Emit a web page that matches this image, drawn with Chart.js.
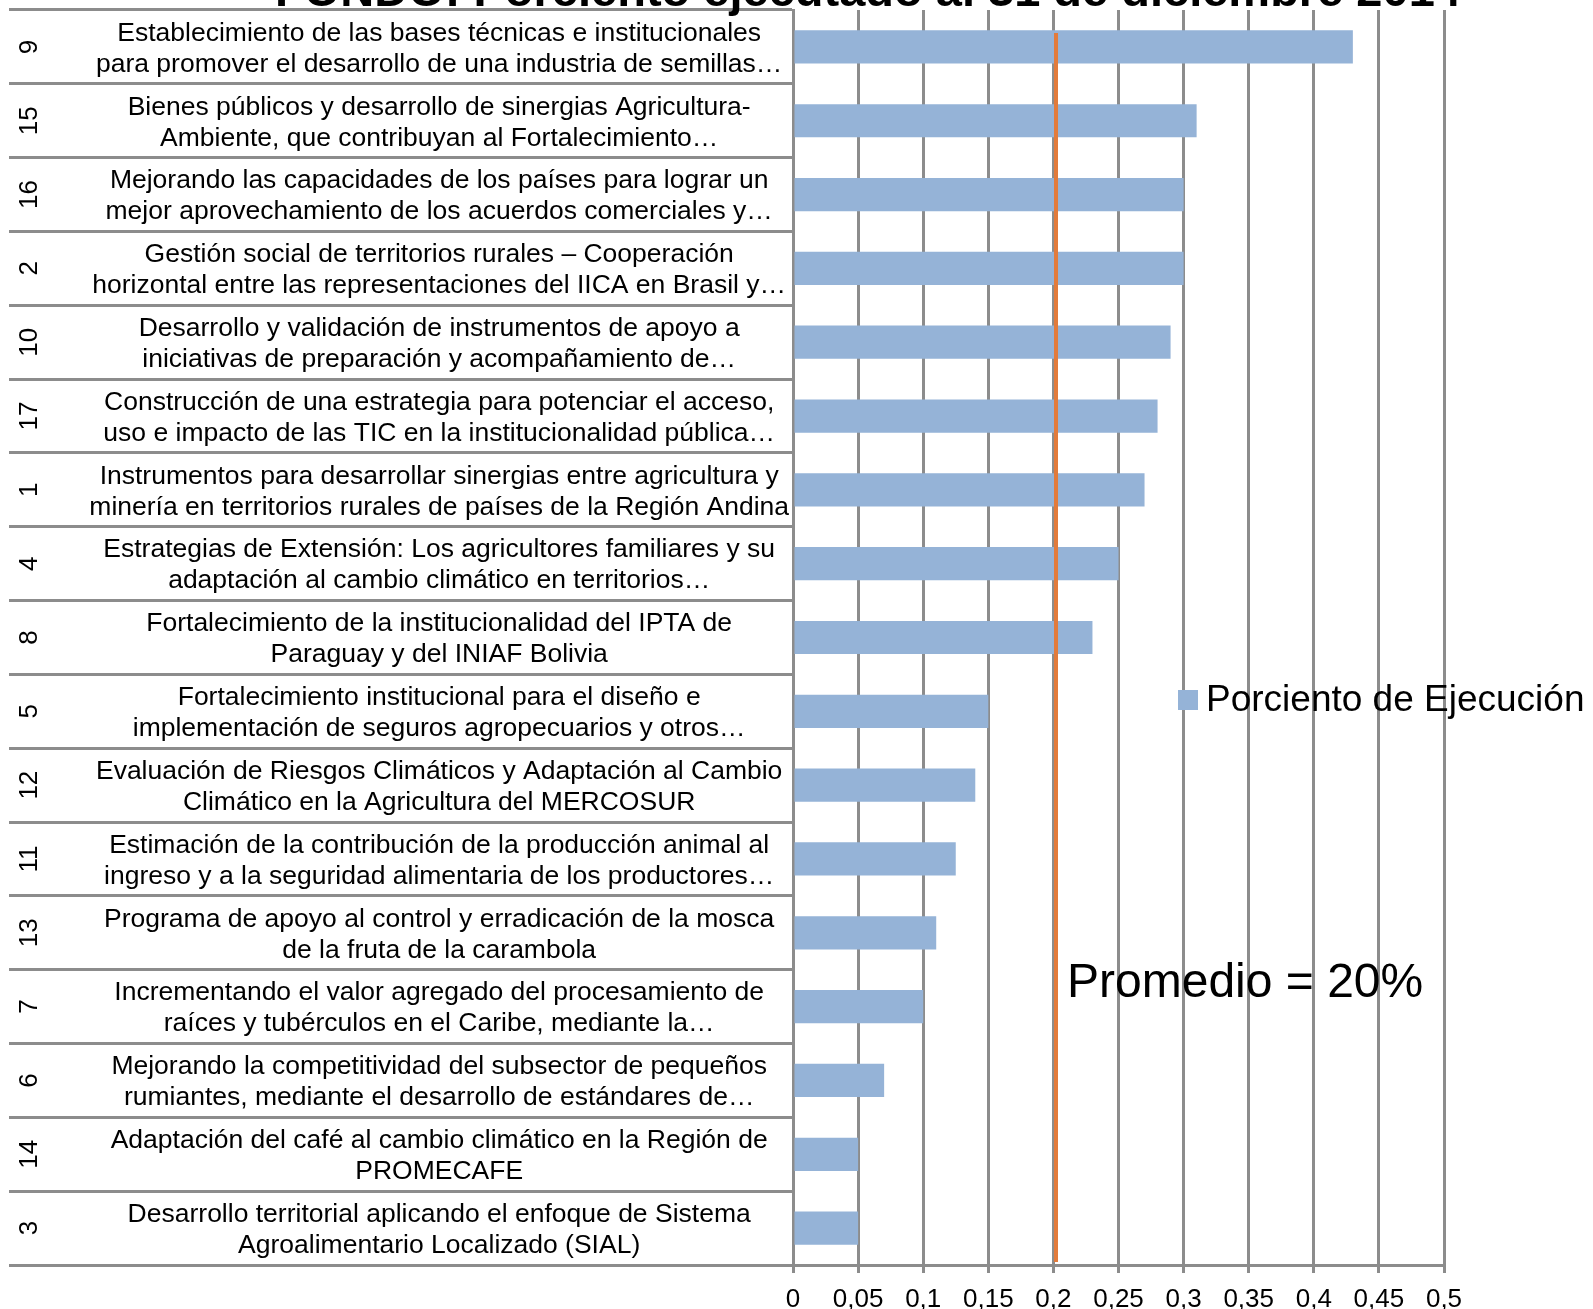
<!DOCTYPE html>
<html>
<head>
<meta charset="utf-8">
<script src="https://cdn.jsdelivr.net/npm/chart.js@4.4.1/dist/chart.umd.min.js"></script>
<style>
  html, body { margin: 0; padding: 0; background: #fff; }
  canvas { display: block; }
</style>
</head>
<body>
<canvas id="grafico" width="1593" height="1309"></canvas>
<script>
// Número del proyecto (columna exterior)
const numeros = ['9', '15', '16', '2', '10', '17', '1', '4', '8', '5', '12', '11', '13', '7', '6', '14', '3'];

// Nombre del proyecto (columna interior, dos líneas)
const proyectos = [
    ['Establecimiento de las bases técnicas e institucionales', 'para promover el desarrollo de una industria de semillas…'],
    ['Bienes públicos y desarrollo de sinergias Agricultura-', 'Ambiente, que contribuyan al Fortalecimiento…'],
    ['Mejorando las capacidades de los países para lograr un', 'mejor aprovechamiento de los acuerdos comerciales y…'],
    ['Gestión social de territorios rurales – Cooperación', 'horizontal entre las representaciones del IICA en Brasil y…'],
    ['Desarrollo y validación de instrumentos de apoyo a', 'iniciativas de preparación y acompañamiento de…'],
    ['Construcción de una estrategia para potenciar el acceso,', 'uso e impacto de las TIC en la institucionalidad pública…'],
    ['Instrumentos para desarrollar sinergias entre agricultura y', 'minería en territorios rurales de países de la Región Andina'],
    ['Estrategias de Extensión: Los agricultores familiares y su', 'adaptación al cambio climático en territorios…'],
    ['Fortalecimiento de la institucionalidad del IPTA de', 'Paraguay y del INIAF Bolivia'],
    ['Fortalecimiento institucional para el diseño e', 'implementación de seguros agropecuarios y otros…'],
    ['Evaluación de Riesgos Climáticos y Adaptación al Cambio', 'Climático en la Agricultura del MERCOSUR'],
    ['Estimación de la contribución de la producción animal al', 'ingreso y a la seguridad alimentaria de los productores…'],
    ['Programa de apoyo al control y erradicación de la mosca', 'de la fruta de la carambola'],
    ['Incrementando el valor agregado del procesamiento de', 'raíces y tubérculos en el Caribe, mediante la…'],
    ['Mejorando la competitividad del subsector de pequeños', 'rumiantes, mediante el desarrollo de estándares de…'],
    ['Adaptación del café al cambio climático en la Región de', 'PROMECAFE'],
    ['Desarrollo territorial aplicando el enfoque de Sistema', 'Agroalimentario Localizado (SIAL)']
];

// Porciento de ejecución
const porcentajes = [0.43, 0.31, 0.30, 0.30, 0.29, 0.28, 0.27, 0.25, 0.23, 0.15, 0.14, 0.125, 0.11, 0.10, 0.07, 0.05, 0.05];

const promedio = 0.202;
const xTicks = ['0', '0,05', '0,1', '0,15', '0,2', '0,25', '0,3', '0,35', '0,4', '0,45', '0,5'];

const gris = '#8c8c8c';
const azul = '#95b3d7';
const naranja = '#e27b3b';
const fuente = "'Liberation Sans', Arial, sans-serif";

Chart.defaults.font.family = fuente;
Chart.defaults.color = '#000';

// dibuja título, números de proyecto, línea del promedio y leyenda
const extras = {
    id: 'extras',
    afterDatasetsDraw(chart) {
        const ctx = chart.ctx;
        const x = chart.scales.x;
        const area = chart.chartArea;
        const px = x.getPixelForValue(promedio);
        ctx.save();
        ctx.strokeStyle = naranja;
        ctx.lineWidth = 4;
        ctx.beginPath();
        ctx.moveTo(px, area.top + 23);
        ctx.lineTo(px, area.bottom - 3);
        ctx.stroke();
        ctx.restore();
    },
    afterDraw(chart) {
        const ctx = chart.ctx;
        const y = chart.scales.y;
        ctx.save();
        ctx.fillStyle = '#000';

        // título (cortado arriba)
        ctx.font = 'bold 47px ' + fuente;
        ctx.textAlign = 'center';
        ctx.textBaseline = 'alphabetic';
        ctx.fillText('FONDO: Porciento ejecutado al 31 de diciembre 2014', 868, 6);

        // números rotados
        ctx.font = '26px ' + fuente;
        ctx.textBaseline = 'middle';
        numeros.forEach((n, i) => {
            ctx.save();
            ctx.translate(30, y.getPixelForValue(i));
            ctx.rotate(-Math.PI / 2);
            ctx.fillText(n, 0, 0);
            ctx.restore();
        });

        // texto del promedio
        ctx.font = '48px ' + fuente;
        ctx.textAlign = 'left';
        ctx.fillText('Promedio = 20%', 1067, 984);

        // leyenda
        const ds = chart.data.datasets[0];
        ctx.fillStyle = ds.backgroundColor;
        ctx.fillRect(1178, 690, 20, 20);
        ctx.fillStyle = '#000';
        ctx.font = '37px ' + fuente;
        ctx.fillText(ds.label, 1206, 701);
        ctx.restore();
    }
};

new Chart(document.getElementById('grafico'), {
    type: 'bar',
    data: {
        labels: proyectos,
        datasets: [{
            label: 'Porciento de Ejecución',
            data: porcentajes,
            backgroundColor: azul,
            barPercentage: 0.45,
            categoryPercentage: 1.0
        }]
    },
    options: {
        indexAxis: 'y',
        responsive: false,
        animation: false,
        devicePixelRatio: 1,
        layout: { padding: { top: 10, right: 149, left: 0, bottom: 0 } },
        plugins: {
            legend: { display: false },
            title: { display: false },
            tooltip: { enabled: false }
        },
        scales: {
            x: {
                min: 0,
                max: 0.5,
                ticks: {
                    stepSize: 0.05,
                    autoSkip: false,
                    maxRotation: 0,
                    padding: 11,
                    font: { size: 26 },
                    callback: (v, i) => xTicks[i]
                },
                grid: { color: gris, lineWidth: 3, tickLength: 8 },
                border: { color: gris, width: 3 },
                afterFit: s => { s.height = 44; }
            },
            y: {
                grid: {
                    offset: true,
                    drawOnChartArea: false,
                    drawTicks: true,
                    tickLength: 784,
                    color: gris,
                    lineWidth: 3
                },
                border: { color: gris, width: 3 },
                ticks: {
                    autoSkip: false,
                    crossAlign: 'center',
                    padding: -780,
                    labelOffset: 2,
                    font: { size: 26.5, lineHeight: 1.17 }
                },
                afterFit: s => { s.width = 793; }
            }
        }
    },
    plugins: [extras]
});
</script>
</body>
</html>
